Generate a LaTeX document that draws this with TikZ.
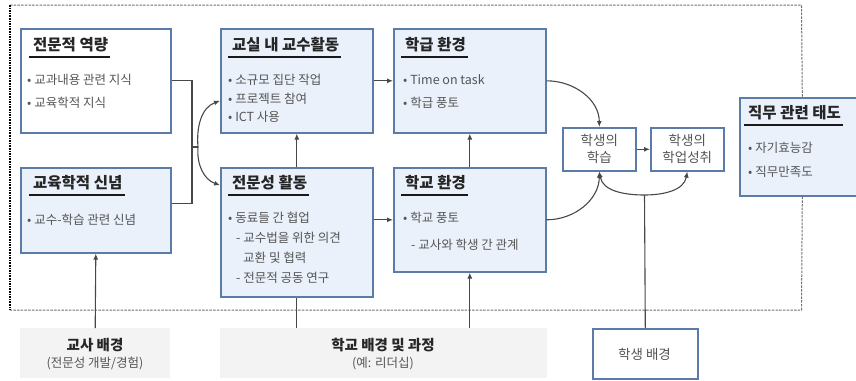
\documentclass[tikz,border=0pt]{standalone}
\usepackage{fontspec}
\setmainfont{Noto Sans CJK KR}
\usetikzlibrary{arrows.meta,calc}
\definecolor{boxline}{HTML}{5B7BA8}
\definecolor{boxfill}{HTML}{EAF1FB}
\definecolor{itemgray}{HTML}{555555}
\definecolor{wire}{HTML}{484848}
\definecolor{bgfill}{HTML}{F3F3F3}
\definecolor{framegray}{HTML}{707070}
\tikzset{
  box/.style={draw=boxline, line width=1.6pt, fill=boxfill, anchor=north west, inner sep=0pt},
  plainbox/.style={box, fill=white},
  bgbox/.style={fill=bgfill, anchor=north west, inner sep=0pt},
  title/.style={anchor=west, inner sep=0pt, font=\fontsize{15.5}{17}\selectfont\bfseries, text=black!85},
  item/.style={anchor=west, inner sep=0pt, font=\fontsize{12.5}{14}\selectfont, text=itemgray},
  midtext/.style={align=center, inner sep=0pt, font=\fontsize{13.5}{17}\selectfont, text=itemgray},
  bgtitle/.style={inner sep=0pt, font=\fontsize{14.5}{16}\selectfont\bfseries, text=black!85},
  bgsub/.style={inner sep=0pt, font=\fontsize{12.5}{14}\selectfont, text=itemgray},
  arr/.style={draw=wire, line width=1.1pt, -{Latex[length=6pt,width=5pt]}},
  wireline/.style={draw=wire, line width=1.1pt},
  uline/.style={line width=2pt, black!90},
  frameleft/.style={line width=2.4pt, black, dash pattern=on 1.6pt off 1pt},
  frameline/.style={line width=1pt, framegray, dash pattern=on 2.5pt off 1.2pt},
}
\begin{document}
\begin{tikzpicture}[x=1pt,y=-1pt]
\useasboundingbox (0,0) rectangle (856,380);

% frame coordinates
\coordinate (ftl) at (10,5);
\coordinate (ftr) at (801.5,5);
\coordinate (fbr) at (801.5,310);
\coordinate (fbl) at (10,310);

% bottom background boxes
\node[bgbox, minimum width=150pt, minimum height=50pt] (tbg) at (20,328) {};
\node[bgbox, minimum width=327pt, minimum height=50pt] (sbg) at (220,328) {};
\node[plainbox, minimum width=105pt, minimum height=50pt] (stu) at (592,328) {};
\node[bgtitle] (tbgA) at (95,345) {교사 배경};
\node[bgsub]   (tbgB) at (95,364) {(전문성 개발/경험)};
\node[bgtitle] (sbgA) at (383,345) {학교 배경 및 과정};
\node[bgsub]   (sbgB) at (383,364) {(예: 리더십)};
\node[midtext] (stuA) at (644.5,354) {학생 배경};

% main boxes
\node[plainbox, minimum width=150pt, minimum height=104pt] (pro) at (20,28) {};
\node[box, minimum width=150pt, minimum height=85pt] (bel) at (20,167) {};
\node[box, minimum width=152pt, minimum height=104pt] (cls) at (220,28) {};
\node[box, minimum width=152pt, minimum height=129pt] (prf) at (220,167) {};
\node[box, minimum width=152pt, minimum height=104pt] (cli) at (393,28) {};
\node[box, minimum width=152pt, minimum height=104pt] (sch) at (393,167) {};
\node[plainbox, minimum width=73pt, minimum height=43pt] (lrn) at (562,127) {};
\node[plainbox, minimum width=73pt, minimum height=43pt] (ach) at (650,127) {};
\node[box, minimum width=125pt, minimum height=98pt] (att) at (739,97) {};

% box texts
\node[title] (proT) at (33,45) {전문적 역량};
\node[item] (proA) at (27,80) {• 교과내용 관련 지식};
\node[item] (proB) at (27,103) {• 교육학적 지식};

\node[title] (belT) at (33,183) {교육학적 신념};
\node[item] (belA) at (27,220) {• 교수-학습 관련 신념};

\node[title] (clsT) at (232,45) {교실 내 교수활동};
\node[item] (clsA) at (228,80) {• 소규모 집단 작업};
\node[item] (clsB) at (228,99) {• 프로젝트 참여};
\node[item] (clsC) at (228,117) {• ICT 사용};

\node[title] (prfT) at (232,183) {전문성 활동};
\node[item] (prfA) at (228,218) {• 동료들 간 협업};
\node[item] (prfB) at (236,238) {- 교수법을 위한 의견};
\node[item] (prfC) at (243,258) {교환 및 협력};
\node[item] (prfD) at (236,278) {- 전문적 공동 연구};

\node[title] (cliT) at (405,45) {학급 환경};
\node[item] (cliA) at (403,80) {• Time on task};
\node[item] (cliB) at (403,103) {• 학급 풍토};

\node[title] (schT) at (405,183) {학교 환경};
\node[item] (schA) at (403,218) {• 학교 풍토};
\node[item] (schB) at (411,245) {- 교사와 학생 간 관계};

\node[midtext] (lrnT) at (lrn.center) {학생의\\학습};
\node[midtext] (achT) at (ach.center) {학생의\\학업성취};

\node[title] (attT) at (748,113) {직무 관련 태도};
\node[item] (attA) at (748,148) {• 자기효능감};
\node[item] (attB) at (748,172) {• 직무만족도};

% title underlines
\foreach \t in {proT,belT,clsT,prfT,cliT,schT,attT}{
  \draw[uline] ([xshift=-4pt,yshift=-12pt]\t.west) -- ([xshift=2pt,yshift=-12pt]\t.east);
}

% outer dotted frame
\draw[frameline] (ftl) -- (ftr) -- (att.north);
\draw[frameline] (att.south) -- (fbr) -- (fbl);
\draw[frameleft] (ftl) -- (fbl);

% teacher characteristics bracket and fork
\coordinate (brk) at (192,147);
\coordinate (fork) at (198,147);
\draw[wireline] (pro.east) -| (brk) |- ([yshift=7pt]bel.east);
\draw[wireline] (brk) -- (fork);
\draw[arr] (fork) to[out=95,in=200] ([yshift=-20pt]cls.west);
\draw[arr] (fork) to[out=-95,in=160] ([yshift=47pt]prf.west);

% activities to environments
\draw[arr] (cls.east) -- (cli.west);
\draw[arr] (prf.east |- sch.west) -- (sch.west);
\draw[arr] (prf.north) -- (cls.south);
\draw[arr] (sch.north) -- (cli.south);

% environments to student learning
\draw[arr] (cli.east) to[out=0,in=90] (lrn.north);
\draw[arr] (sch.east) to[out=0,in=-90] (lrn.south);
\draw[arr] (lrn.east) -- (ach.west);

% student background
\coordinate (join) at (644.5,195);
\draw[wireline] (stu.north) -- (join);
\draw[arr] (join) to[out=180,in=-80] (lrn.south);
\draw[arr] (join) to[out=0,in=-100] (ach.south);

% background influences
\draw[arr] (tbg.north) -- (bel.south);
\draw[wireline] (sbg.north -| prf.south) -- (prf.south);
\draw[arr] (sbg.north -| sch.south) -- (sch.south);
\end{tikzpicture}
\end{document}
